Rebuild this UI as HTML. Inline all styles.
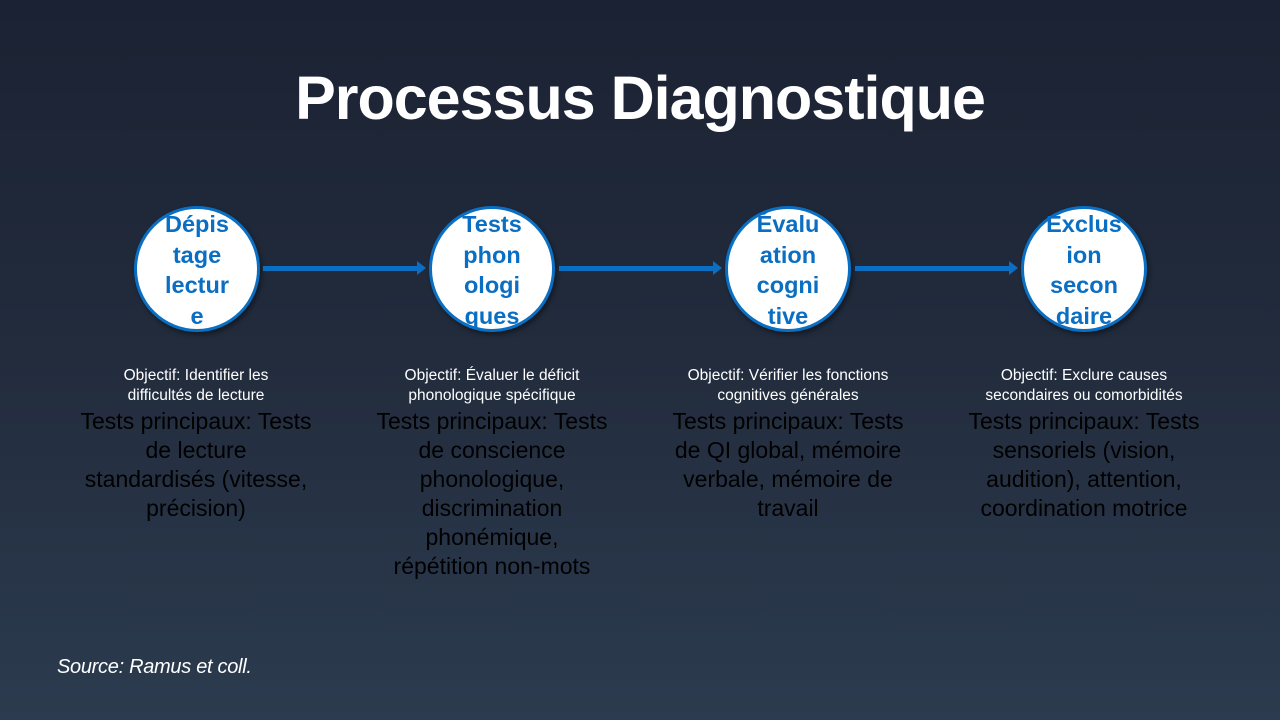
<!DOCTYPE html>
<html><head><meta charset="utf-8"><style>
body{margin:0;width:1280px;height:720px;overflow:hidden;background:linear-gradient(180deg,#1b2233 0%,#222c3d 50%,#2c3b4f 100%);font-family:"Liberation Sans",sans-serif;position:relative}
h1{position:absolute;top:63px;left:0;width:1280px;text-align:center;margin:0;color:#fff;font-size:61px;font-weight:bold;letter-spacing:-1px}
.c{position:absolute;top:206px;width:120px;height:120px;border:3px solid #0a6fc2;border-radius:50%;background:#fff;box-shadow:2px 3px 5px rgba(0,0,0,.4);overflow:visible}
.c div{position:absolute;left:0;width:120px;top:0px;text-align:center;color:#0a6fc2;font-weight:bold;font-size:23.5px;line-height:30.5px}
.a{position:absolute;top:266px;height:5px;background:#0a6fc2}
.a:after{content:"";position:absolute;right:-8px;top:-5px;border-left:9px solid #0a6fc2;border-top:7.5px solid transparent;border-bottom:7.5px solid transparent}
.o{position:absolute;top:366px;width:260px;text-align:center;color:#fff;font-size:15.5px;line-height:20px;white-space:nowrap}
.t{position:absolute;top:407px;width:260px;text-align:center;color:#000;font-size:23px;line-height:29px;white-space:nowrap}
.s{position:absolute;left:57px;top:656px;color:#fff;font-style:italic;font-size:20px;letter-spacing:-0.3px}
</style></head><body>
<h1>Processus Diagnostique</h1>
<div class="c" style="left:134px"><div>Dépis<br>tage<br>lectur<br>e</div></div>
<div class="c" style="left:429px"><div>Tests<br>phon<br>ologi<br>ques</div></div>
<div class="c" style="left:725px"><div>Évalu<br>ation<br>cogni<br>tive</div></div>
<div class="c" style="left:1021px"><div>Exclus<br>ion<br>secon<br>daire</div></div>
<div class="a" style="left:263px;width:155px"></div>
<div class="a" style="left:559px;width:155px"></div>
<div class="a" style="left:855px;width:155px"></div>
<div class="o" style="left:66px">Objectif: Identifier les<br>difficultés de lecture</div>
<div class="o" style="left:362px">Objectif: Évaluer le déficit<br>phonologique spécifique</div>
<div class="o" style="left:658px">Objectif: Vérifier les fonctions<br>cognitives générales</div>
<div class="o" style="left:954px">Objectif: Exclure causes<br>secondaires ou comorbidités</div>
<div class="t" style="left:66px">Tests principaux: Tests<br>de lecture<br>standardisés (vitesse,<br>précision)</div>
<div class="t" style="left:362px">Tests principaux: Tests<br>de conscience<br>phonologique,<br>discrimination<br>phonémique,<br>répétition non-mots</div>
<div class="t" style="left:658px">Tests principaux: Tests<br>de QI global, mémoire<br>verbale, mémoire de<br>travail</div>
<div class="t" style="left:954px">Tests principaux: Tests<br>sensoriels (vision,<br>audition), attention,<br>coordination motrice</div>
<div class="s">Source: Ramus et coll.</div>
</body></html>
